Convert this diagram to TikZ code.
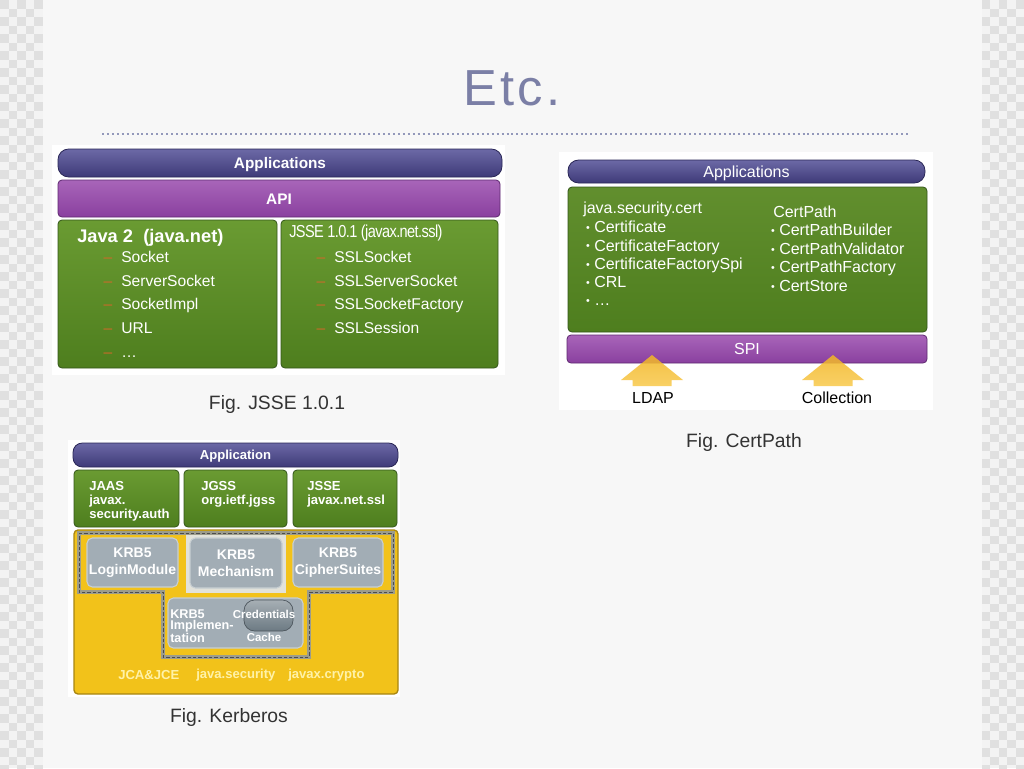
\documentclass[tikz,border=0pt]{standalone}
\usepackage{fontspec}
\setmainfont{Liberation Sans}
\usetikzlibrary{fit,positioning,calc}
\definecolor{slidebg}{HTML}{F7F7F7}
\definecolor{checkdark}{HTML}{E0E0E0}
\definecolor{checklight}{HTML}{F3F3F3}
\definecolor{titleblue}{HTML}{7B7FA6}
\definecolor{dotblue}{HTML}{9398BA}
\definecolor{navytop}{HTML}{6C69A6}
\definecolor{navybot}{HTML}{3E3A78}
\definecolor{navyline}{HTML}{2A2756}
\definecolor{purptop}{HTML}{A865B9}
\definecolor{purpbot}{HTML}{8A409F}
\definecolor{purpline}{HTML}{5E2A70}
\definecolor{greentop}{HTML}{6A9B32}
\definecolor{greenbot}{HTML}{4E7E1E}
\definecolor{greenline}{HTML}{33561A}
\definecolor{dashorange}{HTML}{CC6A2A}
\definecolor{krbyellow}{HTML}{F2C21A}
\definecolor{krbline}{HTML}{A88612}
\definecolor{greybox}{HTML}{A2ADB5}
\definecolor{greyline}{HTML}{C8CFD3}
\definecolor{credgrey}{HTML}{6C7A83}
\definecolor{outlinegrey}{HTML}{9C9C8C}
\definecolor{mechbg}{HTML}{E2E2DA}
\definecolor{yarrowtop}{HTML}{F2B524}
\definecolor{yarrowbot}{HTML}{F8C94A}
\definecolor{jcatext}{HTML}{FFF2A8}
\definecolor{captext}{HTML}{333333}

\begin{document}
\begin{tikzpicture}
[x=0.75pt,y=-0.75pt,
 pill/.style={draw=navyline, line width=0.6pt, rounded corners=8pt,
   top color=navytop, bottom color=navybot, inner sep=0},
 bar/.style={draw=purpline, line width=0.6pt, rounded corners=3pt,
   top color=purptop, bottom color=purpbot, inner sep=0},
 gbox/.style={draw=greenline, line width=0.6pt, rounded corners=3pt,
   top color=greentop, bottom color=greenbot, inner sep=0},
 kbox/.style={draw=greyline, line width=0.8pt, rounded corners=4pt,
   fill=greybox, inner sep=0},
 wtxt/.style={text=white, inner sep=0, font=\fontsize{11.7}{13}\selectfont},
 btxt/.style={text=white, inner sep=0, font=\bfseries\fontsize{11.5}{13}\selectfont},
 ctxt/.style={text=white, inner sep=0, font=\fontsize{12}{13}\selectfont},
 ktxt/.style={text=white, inner sep=0, align=left,
   font=\bfseries\fontsize{9.8}{10.4}\selectfont},
 dashmark/.style={text=dashorange, inner sep=0, font=\fontsize{11.7}{13}\selectfont},
 caption/.style={text=captext, inner sep=0, font=\fontsize{14.5}{16}\selectfont},
 yarrow/.style={top color=yarrowtop, bottom color=yarrowbot, fill opacity=0.85}]

\useasboundingbox (0,0) rectangle (1024,768);

% slide and checker background
\fill[checklight] (0,0) rectangle (1024,768);
\foreach \c in {0,...,4}{
  \pgfmathtruncatemacro\sh{mod(\c,2)}
  \foreach \r in {0,2,...,90}{
    \fill[checkdark] (\c*8.5,{(\r+\sh)*8.5}) rectangle ++(8.5,8.5);
    \fill[checkdark] (981.5+\c*8.5,{(\r+\sh)*8.5}) rectangle ++(8.5,8.5);
  }
}
\fill[slidebg] (42.5,0) rectangle (981.5,768);

% title
\node[text=titleblue, inner sep=0, font=\fontsize{38}{40}\selectfont\addfontfeature{LetterSpace=6}]
  (title) at (512,88) {Etc.};
\draw[dotblue, line width=1.5pt, dash pattern=on 1.5pt off 2.2pt] (102,134) -- (908,134);

%% Fig. JSSE 1.0.1
\fill[white] (52,145) rectangle (505,375);
\node[pill, fit={(58,149) (502,177)}] (japps) {};
\node[btxt, anchor=base] at ($(japps.center)+(0,5.5)$) {Applications};
\node[bar, fit={(58,180) (500,217)}] (japi) {};
\node[btxt, anchor=base] at ($(japi.center)+(0,5.5)$) {API};
\node[gbox, fit={(58,220) (277,368)}] (jnet) {};
\node[gbox, fit={(281,220) (498,368)}] (jssl) {};
\node[text=white, inner sep=0, anchor=base west, font=\bfseries\fontsize{13.7}{15}\selectfont]
  (jnethead) at (77,242.5) {Java 2\ \ (java.net)};
\node[text=white, inner sep=0, anchor=base west, font=\fontsize{13}{14}\selectfont]
  (jsslhead) at (289,237.5) {\scalebox{0.84}[1]{\addfontfeature{LetterSpace=-4}JSSE 1.0.1 (javax.net.ssl)}};
\foreach \t [count=\i from 0] in {Socket,ServerSocket,SocketImpl,URL,…}{
  \node[dashmark, anchor=base] (jnd\i) at (108,{262.5+23.7*\i}) {–};
  \node[wtxt, anchor=base west] (jni\i) at (121,{262.5+23.7*\i}) {\t};
}
\foreach \t [count=\i from 0] in {SSLSocket,SSLServerSocket,SSLSocketFactory,SSLSession}{
  \node[dashmark, anchor=base] (jsd\i) at (321,{262.5+23.7*\i}) {–};
  \node[wtxt, anchor=base west] (jsi\i) at (334,{262.5+23.7*\i}) {\t};
}
\node[caption] (capjsse) at (277,404) {Fig. JSSE 1.0.1};

%% Fig. CertPath
\fill[white] (559,152) rectangle (933,410);
\node[pill, fit={(568,160) (925,183)}] (capps) {};
\node[ctxt, anchor=base] at ($(capps.center)+(0,5.7)$) {Applications};
\node[gbox, top color=greentop!92!black, fit={(568,187) (927,332)}] (cmain) {};
\node[ctxt, anchor=base west] (chead1) at (583,213.7) {java.security.cert};
\foreach \t [count=\i from 0] in {Certificate,CertificateFactory,CertificateFactorySpi,CRL,…}{
  \node[ctxt, anchor=base, font=\fontsize{8}{9}\selectfont] (cb\i) at (588,{231.5+18.3*\i}) {•};
  \node[ctxt, anchor=base west] (ci\i) at (594,{232.7+18.3*\i}) {\t};
}
\node[ctxt, anchor=base west] (chead2) at (773,217.7) {CertPath};
\foreach \t [count=\i from 0] in {CertPathBuilder,CertPathValidator,CertPathFactory,CertStore}{
  \node[ctxt, anchor=base, font=\fontsize{8}{9}\selectfont] (cpb\i) at (773,{234.5+18.6*\i}) {•};
  \node[ctxt, anchor=base west] (cpi\i) at (779,{235.7+18.6*\i}) {\t};
}
\node[bar, fit={(567,335) (927,363)}] (cspi) {};
\node[ctxt, anchor=base] at ($(cspi.center)+(0,5.7)$) {SPI};
\node[inner sep=0, font=\fontsize{12}{13}\selectfont] (ldap) at (653,398) {LDAP};
\node[inner sep=0, font=\fontsize{12}{13}\selectfont] (coll) at (837,398) {Collection};
\coordinate (ldaptip) at (652,355);
\coordinate (colltip) at (833,355);
\shade[yarrow] (ldaptip) -- ++(31,25) -- ++(-11.5,0) -- ++(0,6) -- ++(-39,0)
  -- ++(0,-6) -- ++(-11.5,0) -- cycle;
\shade[yarrow] (colltip) -- ++(31,25) -- ++(-11.5,0) -- ++(0,6) -- ++(-39,0)
  -- ++(0,-6) -- ++(-11.5,0) -- cycle;
\node[caption] (capcert) at (744,442) {Fig. CertPath};

%% Fig. Kerberos
\fill[white] (68,440) rectangle (400,697);
\node[pill, rounded corners=7pt, fit={(73,443) (398,467)}] (kapp) {};
\node[ktxt, anchor=base] at ($(kapp.center)+(0,4.7)$) {Application};
\node[gbox, fit={(74,470) (179,527)}] (kjaas) {};
\node[gbox, fit={(184,470) (287,527)}] (kjgss) {};
\node[gbox, fit={(293,470) (397,527)}] (kjsse) {};
\node[ktxt, anchor=west] at (89,501) {JAAS\\javax.\\security.auth};
\node[ktxt, anchor=west] at (201,494) {JGSS\\org.ietf.jgss};
\node[ktxt, anchor=west] at (307,494) {JSSE\\javax.net.ssl};
\node[draw=krbline, line width=1pt, rounded corners=3pt, fill=krbyellow, inner sep=0,
  fit={(74,530) (398,694)}] (kjca) {};
\fill[mechbg] (186,533) rectangle (286,593);
\draw[outlinegrey, line width=2.6pt] (79,533) -- (393,533) -- (393,592) -- (309,592)
  -- (309,657) -- (163,657) -- (163,592) -- (79,592) -- cycle;
\draw[black!70, line width=0.7pt, dash pattern=on 2.5pt off 1.5pt] (79,533) -- (393,533)
  -- (393,592) -- (309,592) -- (309,657) -- (163,657) -- (163,592) -- (79,592) -- cycle;
\node[kbox, fit={(87,538) (178,587)}] (klogin) {};
\node[kbox, fit={(190,538) (282,588)}] (kmech) {};
\node[kbox, fit={(293,538) (383,587)}] (kcipher) {};
\node[ktxt, align=center, font=\bfseries\fontsize{10.5}{12.5}\selectfont] at (klogin.center) {KRB5\\LoginModule};
\node[ktxt, align=center, font=\bfseries\fontsize{10.5}{12.5}\selectfont] at (kmech.center) {KRB5\\Mechanism};
\node[ktxt, align=center, font=\bfseries\fontsize{10.5}{12.5}\selectfont] at (kcipher.center) {KRB5\\CipherSuites};
\node[kbox, fit={(168,598) (303,648)}] (kimpl) {};
\node[ktxt, anchor=west, font=\bfseries\fontsize{9.5}{8.4}\selectfont] at (170,626) {KRB5\\Implemen-\\tation};
\node[draw=credgrey!70!black, line width=0.5pt, rounded corners=8pt,
  top color=credgrey!60!white, bottom color=credgrey, inner sep=0,
  fit={(244,600) (293,631)}] (kcred) {};
\node[ktxt, font=\bfseries\fontsize{8.6}{9}\selectfont] at (264,614) {Credentials};
\node[ktxt, font=\bfseries\fontsize{8.6}{9}\selectfont] at (264,637) {Cache};
\node[ktxt, text=jcatext, anchor=west] (kjcaa) at (118,675) {JCA\&JCE};
\node[ktxt, text=jcatext, anchor=west] (kjcab) at (196,675) {java.security};
\node[ktxt, text=jcatext, anchor=west] (kjcac) at (288,675) {javax.crypto};
\node[caption] (capkrb) at (229,717) {Fig. Kerberos};

\end{tikzpicture}
\end{document}
